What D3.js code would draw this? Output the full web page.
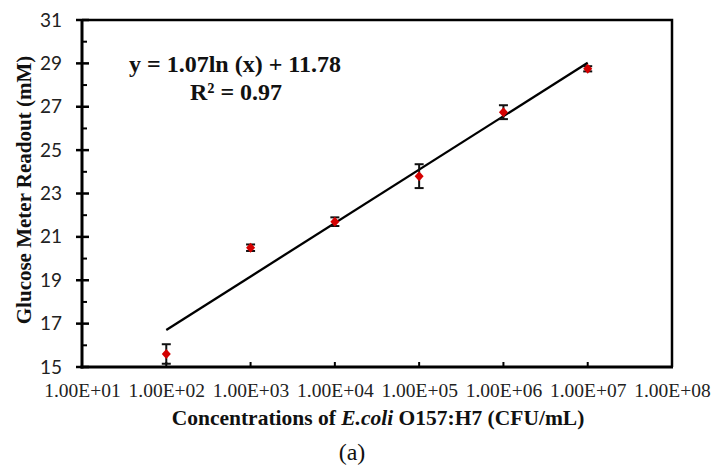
<!DOCTYPE html>
<html>
<head>
<meta charset="utf-8">
<script src="https://cdn.jsdelivr.net/npm/d3@7"></script>
<style>
  body { margin: 0; background: #fff; }
  svg { display: block; }
</style>
</head>
<body>
<svg id="chart"></svg>
<script>
// Data
const concentrations = [1e2, 1e3, 1e4, 1e5, 1e6, 1e7];
const readouts = [15.6, 20.5, 21.7, 23.8, 26.75, 28.75];
const errors = [0.45, 0.15, 0.2, 0.55, 0.32, 0.12];
const xTicks = [1e1, 1e2, 1e3, 1e4, 1e5, 1e6, 1e7, 1e8];
const yTicks = [15, 17, 19, 21, 23, 25, 27, 29, 31];
const yMinorTicks = [16, 18, 20, 22, 24, 26, 28, 30];
// Trend line end points (y = 1.07ln(x) + 11.78)
const trendX = [1e2, 1e7];
const trendY = [16.71, 29.03];

const W = 711, H = 466;
const margin = { top: 20, right: 39, bottom: 99, left: 82 },
   width = W - margin.left - margin.right,
   height = H - margin.top - margin.bottom;

const svg = d3.select("#chart")
   .attr("width", W)
   .attr("height", H);

const g = svg.append("g")
   .attr("transform", `translate(${margin.left},${margin.top})`);

const x = d3.scaleLog().domain([1e1, 1e8]).range([0, width]);
const y = d3.scaleLinear().domain([15, 31]).range([height, 0]);

const serif = "'Liberation Serif', 'Times New Roman', serif";

// Frame (top and right)
g.append("path")
   .attr("d", `M0,0H${width}V${height}`)
   .attr("fill", "none")
   .attr("stroke", "#000")
   .attr("stroke-width", 2.5);

// Y axis
const yAxis = g.append("g")
   .call(d3.axisLeft(y).tickValues(yTicks).tickSize(0).tickPadding(20));
yAxis.select(".domain").remove();
yAxis.selectAll("text")
   .attr("font-family", "Lato, 'Noto Sans', sans-serif")
   .attr("font-size", 19)
   .attr("fill", "#222");

g.selectAll(".ymajor")
   .data(yTicks)
   .enter()
   .append("line")
   .attr("x1", -6).attr("x2", 7)
   .attr("y1", d => y(d)).attr("y2", d => y(d))
   .attr("stroke", "#000").attr("stroke-width", 2.5);

g.selectAll(".yminor")
   .data(yMinorTicks)
   .enter()
   .append("line")
   .attr("x1", 0).attr("x2", 5)
   .attr("y1", d => y(d)).attr("y2", d => y(d))
   .attr("stroke", "#000").attr("stroke-width", 2);

// X axis
const xAxis = g.append("g")
   .attr("transform", `translate(0,${height})`)
   .call(d3.axisBottom(x).tickValues(xTicks)
      .tickFormat(d => d3.format(".2e")(d).replace("e", "E").replace(/E([+-])(\d)$/, "E$10$2"))
      .tickSize(0).tickPadding(16));
xAxis.select(".domain").remove();
xAxis.selectAll("text")
   .attr("font-family", serif)
   .attr("font-size", 19.5)
   .attr("fill", "#222");

g.selectAll(".xtick")
   .data(xTicks.slice(1, -1))
   .enter()
   .append("line")
   .attr("x1", d => x(d)).attr("x2", d => x(d))
   .attr("y1", height).attr("y2", height - 5)
   .attr("stroke", "#000").attr("stroke-width", 2);

// Axis lines
g.append("line")
   .attr("x1", 0).attr("x2", 0).attr("y1", -1).attr("y2", height + 1.5)
   .attr("stroke", "#000").attr("stroke-width", 3);
g.append("line")
   .attr("x1", -1.5).attr("x2", width + 1).attr("y1", height).attr("y2", height)
   .attr("stroke", "#000").attr("stroke-width", 3);

// Trend line
g.append("path")
   .datum(d3.zip(trendX, trendY))
   .attr("d", d3.line().x(d => x(d[0])).y(d => y(d[1])))
   .attr("fill", "none")
   .attr("stroke", "#000")
   .attr("stroke-width", 2.3);

// Error bars
const pts = concentrations.map((c, i) => ({ c, v: readouts[i], e: errors[i] }));
const eb = g.selectAll(".err")
   .data(pts)
   .enter()
   .append("g")
   .attr("stroke", "#111")
   .attr("stroke-width", 2);
eb.append("line")
   .attr("x1", d => x(d.c)).attr("x2", d => x(d.c))
   .attr("y1", d => y(d.v - d.e)).attr("y2", d => y(d.v + d.e));
eb.append("line")
   .attr("x1", d => x(d.c) - 4.5).attr("x2", d => x(d.c) + 4.5)
   .attr("y1", d => y(d.v + d.e)).attr("y2", d => y(d.v + d.e));
eb.append("line")
   .attr("x1", d => x(d.c) - 4.5).attr("x2", d => x(d.c) + 4.5)
   .attr("y1", d => y(d.v - d.e)).attr("y2", d => y(d.v - d.e));

// Markers
g.selectAll(".pt")
   .data(pts)
   .enter()
   .append("path")
   .attr("d", "M0,-5L4.5,0L0,5L-4.5,0Z")
   .attr("transform", d => `translate(${x(d.c)},${y(d.v)})`)
   .attr("fill", "#d40000");

// Equation
const eq = g.append("text")
   .attr("font-family", serif)
   .attr("font-weight", "bold")
   .attr("font-size", 24)
   .attr("text-anchor", "middle")
   .attr("fill", "#111");
eq.append("tspan").attr("x", 153).attr("y", 52).text("y = 1.07ln (x) + 11.78");
eq.append("tspan").attr("x", 154).attr("y", 80).text("R² = 0.97");

// Axis titles
const xt = svg.append("text")
   .attr("x", 378).attr("y", 425)
   .attr("text-anchor", "middle")
   .attr("font-family", serif)
   .attr("font-weight", "bold")
   .attr("font-size", 21.5)
   .attr("fill", "#111");
xt.append("tspan").text("Concentrations of ");
xt.append("tspan").attr("font-style", "italic").text("E.coli");
xt.append("tspan").text(" O157:H7 (CFU/mL)");

svg.append("text")
   .attr("transform", "translate(31,190) rotate(-90)")
   .attr("text-anchor", "middle")
   .attr("font-family", serif)
   .attr("font-weight", "bold")
   .attr("font-size", 21)
   .attr("fill", "#111")
   .text("Glucose Meter Readout (mM)");

svg.append("text")
   .attr("x", 352).attr("y", 460)
   .attr("text-anchor", "middle")
   .attr("font-family", serif)
   .attr("font-size", 24)
   .attr("fill", "#111")
   .text("(a)");
</script>
</body>
</html>
